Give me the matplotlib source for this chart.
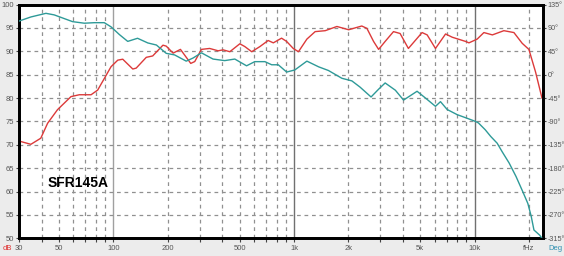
import matplotlib
matplotlib.use("Agg")
import matplotlib.pyplot as plt
from matplotlib.ticker import FixedLocator, NullFormatter

# ---- data ----
spl_freq = [30, 34.9, 39.6, 43.2, 49, 58.2, 64.7, 75.2, 81.8, 89.1, 97, 105.7, 112.6,
            128, 133.7, 152, 165, 188, 196, 214, 235, 268, 282, 307, 341, 380, 405,
            441, 501, 534, 583, 647, 719, 768, 853, 910, 990, 1058, 1178, 1309, 1488,
            1727, 2006, 2372, 2532, 2757, 2940, 3195, 3554, 3866, 4297, 5117, 5459,
            6070, 6904, 7518, 8914, 9300, 10330, 11250, 12540, 14520, 16500, 18340,
            19970, 21730, 23600]
spl_db = [70.8, 70.1, 71.4, 74.6, 77.5, 80.3, 80.7, 80.7, 81.7, 84.2, 86.7, 88.1, 88.3,
          86.2, 86.4, 88.7, 89.0, 91.3, 91.1, 89.6, 90.4, 87.4, 87.8, 90.4, 90.6, 90.1,
          90.3, 89.9, 91.6, 91.0, 89.9, 91.0, 92.3, 91.8, 92.8, 92.1, 90.6, 89.9, 92.6,
          94.2, 94.4, 95.3, 94.6, 95.4, 94.9, 92.1, 90.4, 92.1, 94.2, 93.8, 90.6, 94.0,
          93.5, 90.6, 93.7, 93.0, 92.1, 91.8, 92.6, 94.0, 93.5, 94.4, 94.0, 91.7, 90.4,
          85.6, 80.0]

phase_freq = [29.4, 34.9, 42.3, 47, 59.4, 69, 78.4, 89, 97, 108, 120, 136, 155, 173, 196,
              218, 253, 276, 307, 356, 413, 470, 546, 606, 690, 752, 818, 910, 1010,
              1178, 1369, 1550, 1840, 2090, 2320, 2670, 2940, 3195, 3640, 4040, 4800,
              5340, 6070, 6470, 7040, 8000, 9090, 10100, 10500, 11440, 12280, 13330,
              14240, 15520, 16950, 18460, 19710, 20580, 21300, 22920, 23600]
phase_deg = [102, 111, 118, 115, 102, 99, 100, 100, 92, 77, 64, 70, 61, 57, 41, 38, 26,
             32, 42, 30, 27, 30, 17, 25, 25, 19, 19, 5, 9, 26, 15, 8, -7, -12, -24, -43,
             -28, -16, -30, -49, -32, -45, -61, -52, -67, -77, -84, -90, -93, -106, -119,
             -132, -149, -170, -196, -225, -248, -273, -299, -309, -315]

x_tick_vals = [30, 50, 100, 200, 500, 1000, 2000, 5000, 10000, 20000]
x_tick_labels = ["30", "50", "100", "200", "500", "1k", "2k", "5k", "10k", "fHz"]
db_ticks = [50, 55, 60, 65, 70, 75, 80, 85, 90, 95, 100]
deg_ticks = [-315, -270, -225, -180, -135, -90, -45, 0, 45, 90, 135]
title_text = "SFR145A"

RED = "#dc3a3a"
TEAL = "#2e9a98"
FONTS = ["Liberation Sans", "DejaVu Sans"]

fig = plt.figure(figsize=(5.64, 2.56), dpi=100, facecolor="#ececec")
ax = fig.add_axes([19 / 564, 1 - 238.3 / 256, (543.3 - 19) / 564, (238.3 - 4.5) / 256])
ax.set_facecolor("white")
ax.set_xscale("log")
ax.set_xlim(30, 24000)
ax.set_ylim(50, 100)

# grid lines
minor_grid = [f * m for f in (10, 100, 1000, 10000) for m in range(2, 10)]
minor_grid = [v for v in minor_grid if 30 < v < 24000]
for v in minor_grid:
    ax.axvline(v, color="#909090", lw=0.9, ls=(0, (3.0, 3.0)), zorder=1)
for v in (100, 1000, 10000):
    ax.axvline(v, color="#a0a0a0" if v == 100 else "#707070", lw=1.0, zorder=1)
for v in db_ticks[1:-1]:
    ax.axhline(v, color="#909090", lw=0.9, ls=(0, (3.0, 3.0)), zorder=1)

ax.plot(spl_freq, spl_db, color=RED, lw=1.0, zorder=3)

ax.xaxis.set_major_locator(FixedLocator(x_tick_vals))
ax.set_xticklabels(x_tick_labels)
ax.xaxis.set_minor_locator(FixedLocator(minor_grid))
ax.xaxis.set_minor_formatter(NullFormatter())
ax.tick_params(axis="x", which="both", length=3, width=0.8, color="#444444", pad=1.5,
               labelsize=5.5, labelcolor="#555555")
ax.set_yticks(db_ticks)
ax.tick_params(axis="y", length=2.5, width=0.8, color="#444444", pad=1,
               labelsize=5.5, labelcolor="#555555")
for s in ax.spines.values():
    s.set_linewidth(2)
    s.set_color("black")

ax2 = ax.twinx()
ax2.set_ylim(-315, 135)
ax2.plot(phase_freq, phase_deg, color=TEAL, lw=1.0, zorder=3)
ax2.set_yticks(deg_ticks)
ax2.set_yticklabels([f"{d}\u00b0" for d in deg_ticks])
ax2.tick_params(axis="y", length=2.5, width=0.8, color="#444444", pad=0.8,
                labelsize=5.2, labelcolor="#555555")
for s in ax2.spines.values():
    s.set_linewidth(2)
    s.set_color("black")

ax.text(43, 61.9, title_text, fontsize=10, fontweight="bold",
        family=FONTS, ha="left", va="center", zorder=5)

fig.text(3 / 564, 1 - 249 / 256, "dB", color="#e03030", fontsize=5.5, va="center",
         ha="left", family=FONTS)
fig.text(548 / 564, 1 - 249 / 256, "Deg", color="#2e8fb0", fontsize=5.5, va="center",
         ha="left", family=FONTS)

for a in (ax, ax2):
    for lab in a.get_xticklabels() + a.get_yticklabels():
        lab.set_family(FONTS)

fig.savefig("out.png", dpi=100, facecolor=fig.get_facecolor())
